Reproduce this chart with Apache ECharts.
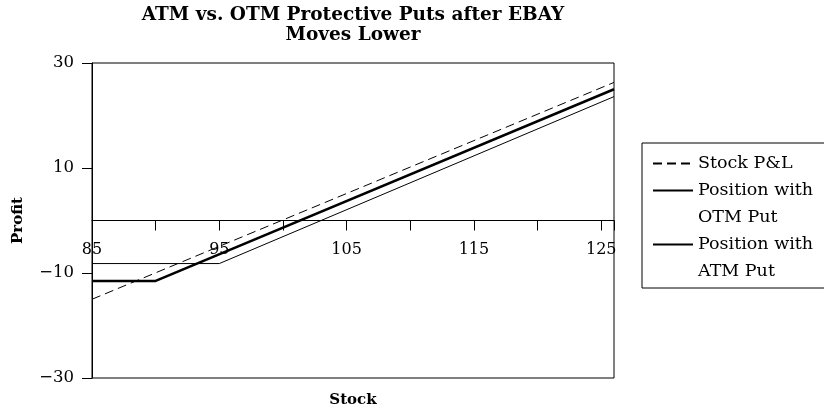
<!DOCTYPE html>
<html>
<head>
<meta charset="utf-8">
<script src="https://cdn.jsdelivr.net/npm/echarts@6/dist/echarts.min.js"></script>
<style>
  html, body { margin: 0; padding: 0; background: #fff; }
  #chart { width: 824px; height: 416px; }
</style>
</head>
<body>
<div id="chart"></div>
<script>
// values: [stock price, profit]
const stockPL = [[85, -15], [126, 26.3]];
const otmPut = [[85, -11.5], [90, -11.5], [126, 25.0]];
const atmPut = [[85, -8.2], [95, -8.2], [126, 23.6]];

const seriesNames = ['Stock P&L', 'Position with\nOTM Put', 'Position with\nATM Put'];
const xLabels = [85, 95, 105, 115, 125];
const yLabels = [-30, -10, 10, 30];

const serif = 'DejaVu Serif';
const chart = echarts.init(document.getElementById('chart'));

chart.setOption({
    animation: false,
    title: [
        {
            text: 'ATM vs. OTM Protective Puts after EBAY\nMoves Lower',
            left: 353,
            top: 5,
            textAlign: 'center',
            padding: 0,
            textStyle: { fontFamily: serif, fontWeight: 'bold', fontSize: 18.5, lineHeight: 20, color: '#000' }
        },
        {
            text: 'Stock',
            left: 353,
            top: 392,
            textAlign: 'center',
            padding: 0,
            textStyle: { fontFamily: serif, fontWeight: 'bold', fontSize: 15, lineHeight: 16, color: '#000' }
        }
    ],
    legend: {
        orient: 'vertical',
        left: 642,
        top: 143,
        padding: [7, 20, 3, 10],
        borderColor: '#000',
        borderWidth: 1,
        itemWidth: 40,
        itemHeight: 14,
        itemGap: -27,
        itemStyle: { opacity: 0 },
        textStyle: { fontFamily: serif, fontSize: 17.5, color: '#000', lineHeight: 27 },
        // blank first line keeps the icon level with the first text line
        formatter: name => name.indexOf('\n') >= 0 ? ' \n' + name : name,
        data: seriesNames
    },
    grid: {
        left: 92,
        right: 210,
        top: 63,
        bottom: 38,
        containLabel: false,
        outerBoundsMode: 'none',
        show: true,
        borderColor: '#000',
        borderWidth: 1
    },
    xAxis: {
        type: 'value',
        min: 85,
        max: 126,
        interval: 5,
        position: 'bottom',
        offset: -157.5,
        axisLine: { onZero: false, lineStyle: { color: '#000', width: 1 } },
        axisTick: { show: true, length: 10, lineStyle: { color: '#000' } },
        axisLabel: {
            margin: 21.5,
            fontFamily: serif,
            fontSize: 16,
            color: '#000',
            formatter: v => xLabels.includes(v) ? String(v) : ''
        },
        splitLine: { show: false }
    },
    yAxis: {
        type: 'value',
        min: -30,
        max: 30,
        interval: 20,
        name: 'Profit',
        nameLocation: 'middle',
        nameGap: 66,
        nameRotate: 90,
        nameTextStyle: { fontFamily: serif, fontWeight: 'bold', fontSize: 15, color: '#000' },
        axisLine: { show: true, onZero: false, lineStyle: { color: '#000', width: 1 } },
        axisTick: { show: true, length: 10, lineStyle: { color: '#000' } },
        axisLabel: {
            margin: 18,
            fontFamily: serif,
            fontSize: 16.5,
            color: '#000',
            formatter: v => yLabels.includes(v) ? String(v).replace('-', '\u2212') : ''
        },
        splitLine: { show: false }
    },
    series: [
        {
            name: seriesNames[0],
            type: 'line',
            data: stockPL,
            symbol: 'none',
            lineStyle: { color: '#000', width: 1, type: [9, 5] },
            itemStyle: { color: '#000' }
        },
        {
            name: seriesNames[1],
            type: 'line',
            data: otmPut,
            symbol: 'none',
            lineStyle: { color: '#000', width: 2.5 },
            itemStyle: { color: '#000' }
        },
        {
            name: seriesNames[2],
            type: 'line',
            data: atmPut,
            symbol: 'none',
            lineStyle: { color: '#000', width: 1 },
            itemStyle: { color: '#000' }
        }
    ]
});

window.addEventListener('resize', function () {
    chart.resize();
});
</script>
</body>
</html>
